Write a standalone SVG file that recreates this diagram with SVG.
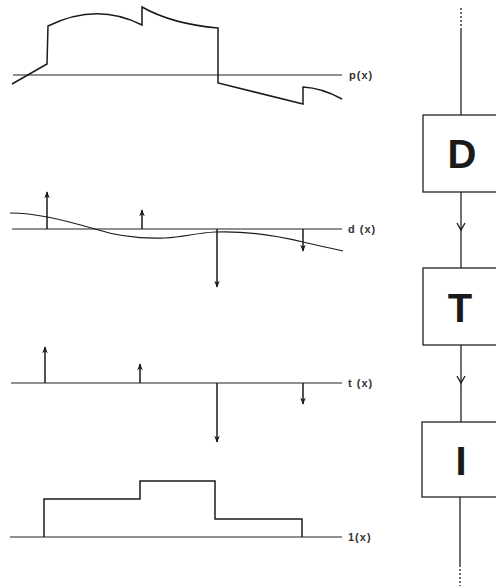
<svg xmlns="http://www.w3.org/2000/svg" width="496" height="586" viewBox="0 0 496 586">
<style>
.ax{stroke:#222;stroke-width:1.2;fill:none}
.sig{stroke:#1a1a1a;stroke-width:1.5;fill:none;stroke-linejoin:miter}
.imp{stroke:#1a1a1a;stroke-width:1.5;fill:none;marker-end:url(#ah)}
.lbl{font-family:"Liberation Sans",Arial,sans-serif;font-size:11px;font-weight:bold;fill:#333;letter-spacing:1px}
.box{fill:#fff;stroke:#222;stroke-width:1.3}
.big{font-family:"Liberation Sans",Arial,sans-serif;font-weight:bold;font-size:40px;fill:#1a1a1a;text-anchor:middle}
.conn{stroke:#222;stroke-width:1.3;fill:none}
</style>
<defs>
<marker id="ah" viewBox="0 0 10 10" refX="9" refY="5" markerWidth="7" markerHeight="7" orient="auto" markerUnits="userSpaceOnUse">
<path d="M0,1 L10,5 L0,9 L3,5 Z" fill="#1a1a1a"/>
</marker>
<marker id="chev" viewBox="0 0 10 10" refX="8" refY="5" markerWidth="10" markerHeight="10" orient="auto" markerUnits="userSpaceOnUse">
<path d="M1,1 L8,5 L1,9" fill="none" stroke="#222" stroke-width="1.4"/>
</marker>
</defs>

<g id="plot-p">
<line class="ax" x1="13" y1="75" x2="342" y2="75"/>
<path class="sig" d="M12,84 L47,64 L48,26 Q97,2 142,25 L142,7 Q172,24 218,28 L218,83 L303,104 L303,87 Q322,88 342,99"/>
<text class="lbl" x="349" y="79">p(x)</text>
</g>

<g id="plot-d">
<line class="ax" x1="12" y1="229" x2="342" y2="229"/>
<path class="sig" style="stroke-width:1.2" d="M10,213 C35,213 60,219 95,229 C120,237 140,239 165,238 C185,237 195,233 215,232 C240,231 270,234 303,242 C320,246 330,248 343,251"/>
<line class="imp" x1="47" y1="229" x2="47" y2="192"/>
<line class="imp" x1="142" y1="229" x2="142" y2="210"/>
<line class="imp" x1="217" y1="229" x2="217" y2="287"/>
<line class="imp" x1="303" y1="229" x2="303" y2="251"/>
<text class="lbl" x="348" y="233">d (x)</text>
</g>

<g id="plot-t">
<line class="ax" x1="11" y1="383" x2="342" y2="383"/>
<line class="imp" x1="45" y1="383" x2="45" y2="347"/>
<line class="imp" x1="140" y1="383" x2="140" y2="364"/>
<line class="imp" x1="217" y1="383" x2="217" y2="442"/>
<line class="imp" x1="303" y1="383" x2="303" y2="404"/>
<text class="lbl" x="348" y="387">t (x)</text>
</g>

<g id="plot-1">
<line class="ax" x1="10" y1="537" x2="342" y2="537"/>
<path class="sig" d="M44,537 L44,499 L140,499 L140,481 L215,481 L215,519 L302,519 L302,537"/>
<text class="lbl" x="348" y="541">1(x)</text>
</g>

<g id="connectors">
<line class="conn" x1="461" y1="8" x2="461" y2="30" stroke-dasharray="2 2"/>
<line class="conn" x1="461" y1="30" x2="461" y2="115"/>
<line class="conn" x1="461" y1="192" x2="461" y2="230" marker-end="url(#chev)"/>
<line class="conn" x1="461" y1="228" x2="461" y2="268"/>
<line class="conn" x1="461" y1="345" x2="461" y2="383" marker-end="url(#chev)"/>
<line class="conn" x1="461" y1="381" x2="461" y2="422"/>
<line class="conn" x1="460" y1="497" x2="460" y2="565"/>
<line class="conn" x1="460" y1="565" x2="460" y2="586" stroke-dasharray="2 2"/>
</g>

<g id="node-D">
<rect class="box" x="423" y="115" width="90" height="77"/>
<text class="big" x="462" y="168">D</text>
</g>
<g id="node-T">
<rect class="box" x="423" y="268" width="90" height="77"/>
<text class="big" x="460" y="322">T</text>
</g>
<g id="node-I">
<rect class="box" x="422" y="422" width="90" height="75"/>
<text class="big" x="461" y="475">I</text>
</g>
</svg>
